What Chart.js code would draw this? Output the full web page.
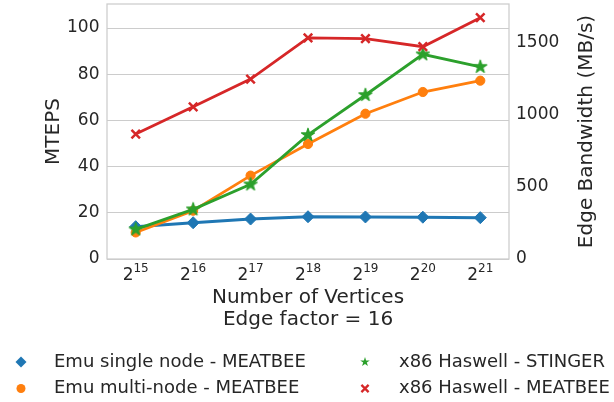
<!DOCTYPE html>
<html>
<head>
<meta charset="utf-8">
<script src="https://cdn.jsdelivr.net/npm/chart.js@4.4.1/dist/chart.umd.min.js"></script>
<style>
  html, body { margin: 0; padding: 0; background: #fff; }
</style>
</head>
<body>
<canvas id="chart" width="614" height="402"></canvas>
<script>
// values
const categories = ['2^15', '2^16', '2^17', '2^18', '2^19', '2^20', '2^21'];
const seriesNames = [
  'Emu single node - MEATBEE',
  'Emu multi-node - MEATBEE',
  'x86 Haswell - STINGER',
  'x86 Haswell - MEATBEE'
];
const emuSingle  = [14.0, 15.7, 17.3, 18.3, 18.2, 18.1, 17.9];
const emuMulti   = [11.5, 20.9, 36.1, 49.8, 62.9, 72.3, 77.2];
const x86Stinger = [12.8, 21.5, 32.3, 53.7, 71.0, 88.6, 83.2];
const x86Meatbee = [54.1, 65.9, 77.9, 95.7, 95.4, 91.9, 104.5];

const mtepsTicks = [0, 20, 40, 60, 80, 100];
const bandwidthTicks = [0, 500, 1000, 1500];
const mtepsMax = 110.4;
const edgeFactor = 16;   // right axis = MTEPS * edge factor
const xTitle = ['Number of Vertices', 'Edge factor = 16'];
const yTitle = 'MTEPS';
const y1Title = 'Edge Bandwidth (MB/s)';

const BLUE = '#1f77b4', ORANGE = '#ff7f0e', GREEN = '#2ca02c', RED = '#d62728';
const TEXT = '#262626';
const FONT = '"DejaVu Sans", sans-serif';

function starPath(ctx, cx, cy, r) {
  const inner = r * 0.382;
  ctx.beginPath();
  for (let k = 0; k < 10; k++) {
    const rad = k % 2 === 0 ? r : inner;
    const ang = -Math.PI / 2 + k * Math.PI / 5;
    const px = cx + rad * Math.cos(ang), py = cy + rad * Math.sin(ang);
    if (k === 0) ctx.moveTo(px, py); else ctx.lineTo(px, py);
  }
  ctx.closePath();
}

function makeStar(r, color) {
  const c = document.createElement('canvas');
  const s = Math.ceil(r * 2 + 4);
  c.width = s; c.height = s;
  const g = c.getContext('2d');
  g.fillStyle = color;
  g.strokeStyle = color;
  g.lineWidth = 1.2;
  g.lineJoin = 'round';
  starPath(g, s / 2, s / 2, r);
  g.fill();
  g.stroke();
  return c;
}

function drawMarker(ctx, kind, color, x, y) {
  ctx.fillStyle = color;
  ctx.strokeStyle = color;
  if (kind === 'diamond') {
    const r = 5.5;
    ctx.beginPath();
    ctx.moveTo(x, y - r); ctx.lineTo(x + r, y); ctx.lineTo(x, y + r); ctx.lineTo(x - r, y);
    ctx.closePath();
    ctx.fill();
  } else if (kind === 'circle') {
    ctx.beginPath();
    ctx.arc(x, y, 4.5, 0, Math.PI * 2);
    ctx.fill();
  } else if (kind === 'star') {
    starPath(ctx, x, y, 5);
    ctx.fill();
  } else {
    const d = 3.6;
    ctx.lineWidth = 2.3;
    ctx.beginPath();
    ctx.moveTo(x - d, y - d); ctx.lineTo(x + d, y + d);
    ctx.moveTo(x + d, y - d); ctx.lineTo(x - d, y + d);
    ctx.stroke();
  }
}

const legendItems = [
  { name: seriesNames[0], kind: 'diamond', color: BLUE,   col: 0, row: 0 },
  { name: seriesNames[1], kind: 'circle',  color: ORANGE, col: 0, row: 1 },
  { name: seriesNames[2], kind: 'star',    color: GREEN,  col: 1, row: 0 },
  { name: seriesNames[3], kind: 'x',       color: RED,    col: 1, row: 1 }
];

const decor = {
  id: 'decor',
  beforeDatasetsDraw(chart) {
    const { ctx, chartArea: a } = chart;
    ctx.save();
    ctx.strokeStyle = '#cccccc';
    ctx.lineWidth = 1.25;
    ctx.strokeRect(a.left, a.top, a.right - a.left, a.bottom - a.top);
    ctx.restore();
  },
  afterDraw(chart) {
    const { ctx, chartArea: a } = chart;
    const xs = chart.scales.x;
    ctx.save();
    ctx.fillStyle = TEXT;
    ctx.textBaseline = 'alphabetic';

    // x tick labels with superscript exponents
    categories.forEach((lab, i) => {
      const [base, exp] = lab.split('^');
      const px = xs.getPixelForValue(i);
      ctx.font = '17px ' + FONT;
      const wb = ctx.measureText(base).width;
      ctx.font = '12px ' + FONT;
      const we = ctx.measureText(exp).width;
      const left = px - (wb + we) / 2;
      ctx.textAlign = 'left';
      ctx.font = '17px ' + FONT;
      ctx.fillText(base, left, a.bottom + 20.5);
      ctx.font = '12px ' + FONT;
      ctx.fillText(exp, left + wb, a.bottom + 13);
    });

    // axis titles
    const cx = (a.left + a.right) / 2, cy = (a.top + a.bottom) / 2;
    ctx.font = '20px ' + FONT;
    ctx.textAlign = 'center';
    ctx.fillText(xTitle[0], cx, a.bottom + 43.5);
    ctx.fillText(xTitle[1], cx, a.bottom + 65.5);

    ctx.save();
    ctx.translate(58.5, cy);
    ctx.rotate(-Math.PI / 2);
    ctx.fillText(yTitle, 0, 0);
    ctx.restore();

    ctx.save();
    ctx.translate(591.5, cy);
    ctx.rotate(-Math.PI / 2);
    ctx.fillText(y1Title, 0, 0);
    ctx.restore();

    // legend, two columns
    const markX = [21, 365], textX = [54, 399];
    const markY = [362, 388.5], textY = [366.5, 393];
    ctx.font = '18px ' + FONT;
    ctx.textAlign = 'left';
    legendItems.forEach(it => {
      drawMarker(ctx, it.kind, it.color, markX[it.col], markY[it.row]);
      ctx.fillStyle = TEXT;
      ctx.fillText(it.name, textX[it.col], textY[it.row]);
    });
    ctx.restore();
  }
};

function fixY(width) {
  return s => { s.width = width; s.paddingTop = 0; s.paddingBottom = 0; };
}

const tickFont = { family: 'DejaVu Sans', size: 17 };

const ctx = document.getElementById('chart').getContext('2d');
new Chart(ctx, {
  type: 'line',
  data: {
    labels: categories,
    datasets: [
      {
        label: seriesNames[0], data: emuSingle, order: 4,
        borderColor: BLUE, backgroundColor: BLUE, borderWidth: 3,
        pointStyle: 'rectRot', pointRadius: 6, pointBorderWidth: 1,
        pointBackgroundColor: BLUE, pointBorderColor: BLUE
      },
      {
        label: seriesNames[1], data: emuMulti, order: 3,
        borderColor: ORANGE, backgroundColor: ORANGE, borderWidth: 2.8,
        pointStyle: 'circle', pointRadius: 4.6, pointBorderWidth: 1,
        pointBackgroundColor: ORANGE, pointBorderColor: ORANGE
      },
      {
        label: seriesNames[2], data: x86Stinger, order: 2,
        borderColor: GREEN, backgroundColor: GREEN, borderWidth: 2.8,
        pointStyle: makeStar(6.8, GREEN), pointRadius: 6
      },
      {
        label: seriesNames[3], data: x86Meatbee, order: 1,
        borderColor: RED, backgroundColor: RED, borderWidth: 2.8,
        pointStyle: 'crossRot', pointRadius: 6, pointBorderWidth: 2.5,
        pointBorderColor: RED
      }
    ]
  },
  options: {
    responsive: false,
    animation: false,
    layout: { autoPadding: false, padding: { top: 4, bottom: 70, left: 0, right: 0 } },
    plugins: { legend: { display: false }, tooltip: { enabled: false } },
    elements: { line: { tension: 0 } },
    scales: {
      x: {
        offset: true,
        grid: { display: false },
        border: { display: false },
        ticks: { display: false },
        afterFit: s => { s.height = 73; s.paddingLeft = 0; s.paddingRight = 0; }
      },
      y: {
        position: 'left',
        min: 0, max: mtepsMax,
        border: { display: false },
        grid: { color: '#cccccc', lineWidth: 1, drawTicks: false },
        ticks: { padding: 7.5, color: TEXT, font: tickFont, callback: v => String(v) },
        afterBuildTicks: s => { s.ticks = mtepsTicks.map(v => ({ value: v })); },
        afterFit: fixY(107)
      },
      y1: {
        position: 'right',
        min: 0, max: mtepsMax * edgeFactor,
        border: { display: false },
        grid: { display: false, drawTicks: false },
        ticks: { padding: 7, color: TEXT, font: tickFont, callback: v => String(v) },
        afterBuildTicks: s => { s.ticks = bandwidthTicks.map(v => ({ value: v })); },
        afterFit: fixY(105)
      }
    }
  },
  plugins: [decor]
});
</script>
</body>
</html>
